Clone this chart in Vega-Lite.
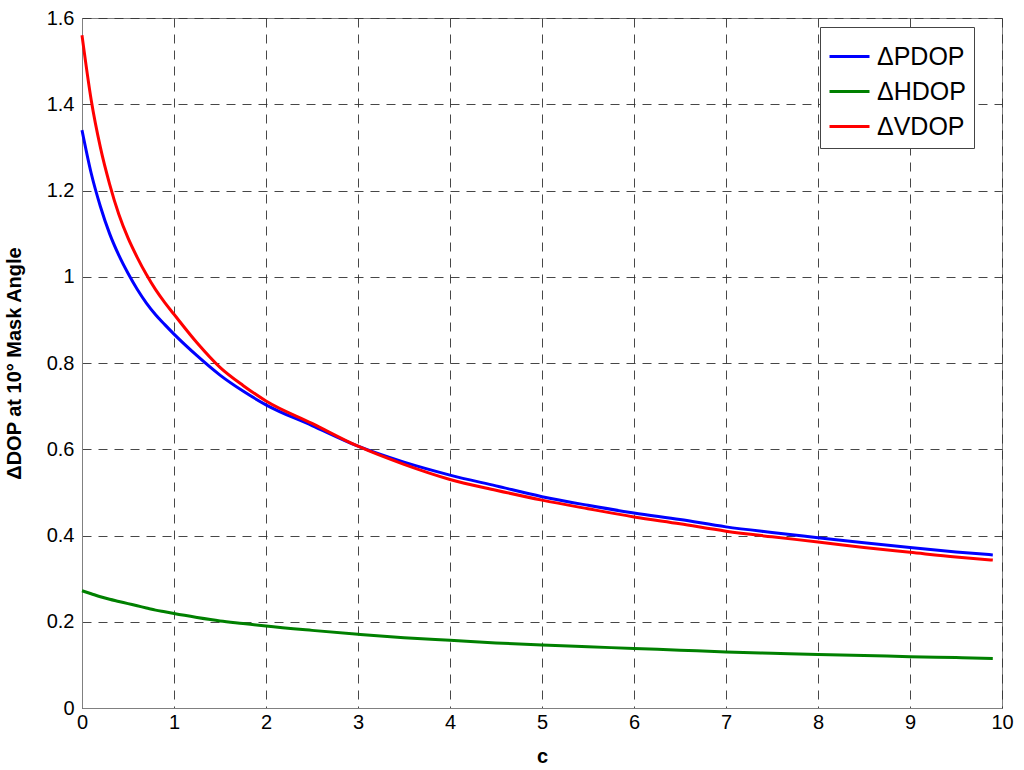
{
  "$schema": "https://vega.github.io/schema/vega-lite/v6.json",
  "width": 920,
  "height": 690,
  "autosize": {"type": "none"},
  "padding": {"left": 82, "top": 18, "right": 22, "bottom": 62},
  "background": "white",
  "config": {
    "font": "Liberation Sans",
    "view": {"stroke": "#808080", "strokeWidth": 1}
  },
  "data": {
    "values": [
      {"c": 0, "ΔPDOP": 1.34, "ΔHDOP": 0.272, "ΔVDOP": 1.56},
      {"c": 0.1, "ΔPDOP": 1.24, "ΔHDOP": 0.265, "ΔVDOP": 1.41},
      {"c": 0.2, "ΔPDOP": 1.163, "ΔHDOP": 0.258, "ΔVDOP": 1.30},
      {"c": 0.3, "ΔPDOP": 1.10, "ΔHDOP": 0.252, "ΔVDOP": 1.215},
      {"c": 0.4, "ΔPDOP": 1.05, "ΔHDOP": 0.247, "ΔVDOP": 1.145},
      {"c": 0.5, "ΔPDOP": 1.008, "ΔHDOP": 0.242, "ΔVDOP": 1.09},
      {"c": 0.6, "ΔPDOP": 0.971, "ΔHDOP": 0.237, "ΔVDOP": 1.045},
      {"c": 0.7, "ΔPDOP": 0.939, "ΔHDOP": 0.232, "ΔVDOP": 1.005},
      {"c": 0.8, "ΔPDOP": 0.912, "ΔHDOP": 0.227, "ΔVDOP": 0.97},
      {"c": 0.9, "ΔPDOP": 0.889, "ΔHDOP": 0.223, "ΔVDOP": 0.94},
      {"c": 1.0, "ΔPDOP": 0.867, "ΔHDOP": 0.219, "ΔVDOP": 0.913},
      {"c": 1.25, "ΔPDOP": 0.817, "ΔHDOP": 0.21, "ΔVDOP": 0.847},
      {"c": 1.5, "ΔPDOP": 0.772, "ΔHDOP": 0.202, "ΔVDOP": 0.79},
      {"c": 1.75, "ΔPDOP": 0.735, "ΔHDOP": 0.196, "ΔVDOP": 0.748},
      {"c": 2.0, "ΔPDOP": 0.703, "ΔHDOP": 0.19, "ΔVDOP": 0.712},
      {"c": 2.5, "ΔPDOP": 0.655, "ΔHDOP": 0.18, "ΔVDOP": 0.66},
      {"c": 3.0, "ΔPDOP": 0.607, "ΔHDOP": 0.171, "ΔVDOP": 0.607},
      {"c": 3.5, "ΔPDOP": 0.57, "ΔHDOP": 0.163, "ΔVDOP": 0.565},
      {"c": 4.0, "ΔPDOP": 0.54, "ΔHDOP": 0.157, "ΔVDOP": 0.53},
      {"c": 4.5, "ΔPDOP": 0.515, "ΔHDOP": 0.151, "ΔVDOP": 0.505},
      {"c": 5.0, "ΔPDOP": 0.49, "ΔHDOP": 0.146, "ΔVDOP": 0.482},
      {"c": 5.5, "ΔPDOP": 0.47, "ΔHDOP": 0.142, "ΔVDOP": 0.462},
      {"c": 6.0, "ΔPDOP": 0.452, "ΔHDOP": 0.138, "ΔVDOP": 0.443},
      {"c": 6.5, "ΔPDOP": 0.437, "ΔHDOP": 0.134, "ΔVDOP": 0.427},
      {"c": 7.0, "ΔPDOP": 0.42, "ΔHDOP": 0.13, "ΔVDOP": 0.41},
      {"c": 7.5, "ΔPDOP": 0.407, "ΔHDOP": 0.127, "ΔVDOP": 0.397},
      {"c": 8.0, "ΔPDOP": 0.395, "ΔHDOP": 0.124, "ΔVDOP": 0.385},
      {"c": 8.5, "ΔPDOP": 0.383, "ΔHDOP": 0.122, "ΔVDOP": 0.372},
      {"c": 9.0, "ΔPDOP": 0.372, "ΔHDOP": 0.119, "ΔVDOP": 0.361},
      {"c": 9.5, "ΔPDOP": 0.362, "ΔHDOP": 0.117, "ΔVDOP": 0.35},
      {"c": 9.9, "ΔPDOP": 0.355, "ΔHDOP": 0.115, "ΔVDOP": 0.343}
    ]
  },
  "transform": [{"fold": ["ΔPDOP", "ΔHDOP", "ΔVDOP"], "as": ["series", "value"]}],
  "mark": {"type": "line", "strokeWidth": 3, "interpolate": "monotone"},
  "encoding": {
    "x": {
      "field": "c", "type": "quantitative",
      "scale": {"domain": [0, 10], "nice": false},
      "axis": {
        "title": "c", "titleFontSize": 20, "titleFontWeight": "bold", "titleColor": "black", "titlePadding": 14,
        "values": [0,1,2,3,4,5,6,7,8,9,10], "labelFontSize": 20, "labelColor": "black", "labelPadding": 4,
        "labelFlush": false, "format": "d",
        "ticks": false, "domainColor": "#808080",
        "grid": true, "gridColor": "#333333", "gridDash": [9, 7], "gridOpacity": 0.9
      }
    },
    "y": {
      "field": "value", "type": "quantitative",
      "scale": {"domain": [0, 1.6], "nice": false},
      "axis": {
        "title": "ΔDOP at 10° Mask Angle", "titleFontSize": 20, "titleFontWeight": "bold", "titleColor": "black", "titlePadding": 22,
        "values": [0,0.2,0.4,0.6,0.8,1,1.2,1.4,1.6], "format": "~r", "labelFontSize": 20, "labelColor": "black", "labelPadding": 8,
        "labelFlush": false,
        "ticks": false, "domainColor": "#808080",
        "grid": true, "gridColor": "#333333", "gridDash": [9, 7], "gridOpacity": 0.9
      }
    },
    "color": {
      "field": "series", "type": "nominal",
      "scale": {"domain": ["ΔPDOP", "ΔHDOP", "ΔVDOP"], "range": ["#0000ff", "#008000", "#ff0000"]},
      "legend": {
        "title": null, "orient": "none", "legendX": 738, "legendY": 9,
        "symbolType": "stroke", "symbolSize": 1600, "symbolStrokeWidth": 3,
        "labelFontSize": 25, "labelColor": "black", "labelOffset": 6,
        "rowPadding": 0, "padding": 8,
        "strokeColor": "#444444", "fillColor": "white"
      }
    },
    "order": {"field": "c", "type": "quantitative"}
  }
}
